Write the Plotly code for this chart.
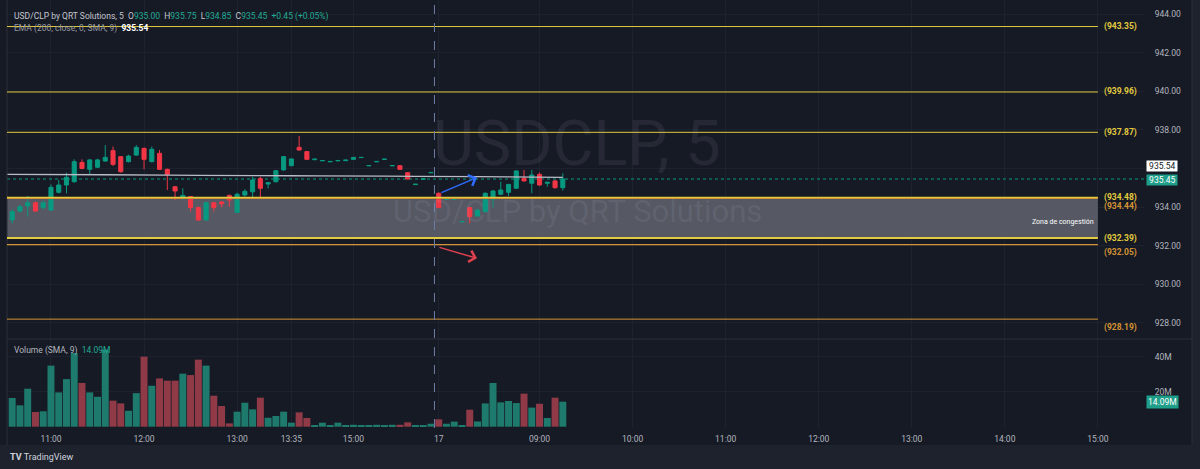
import plotly.graph_objects as go

# ---------------- data ----------------
OPEN = [933.33, 933.79, 934.05, 934.22, 933.97, 933.84, 934.76, 935.14, 935.31, 936.31,
        935.95, 936.06, 936.38, 936.92, 936.61, 936.35, 936.69, 937.04, 936.35, 936.78,
        935.95, 935.05, 934.45, 934.54, 933.97, 933.33, 934.22, 934.26, 934.60, 933.72,
        934.62, 934.79, 935.47, 935.19, 935.31, 935.92, 936.14, 937.09, 936.87, 936.45,
        936.39, 936.34, 936.39, 936.40, 936.47, 936.56, 936.13, 936.34, 936.46, 936.13,
        936.14, 935.78, 935.16, 935.44, 935.77, 934.71, 934.40, 934.40, 933.23, 933.97,
        933.53, 933.76, 934.41, 934.66, 934.76, 934.97, 935.48, 935.23, 935.69, 935.23,
        935.35, 935.00]
HIGH = [933.88, 934.09, 934.57, 934.28, 934.33, 935.17, 935.40, 935.78, 936.47, 936.47,
        936.49, 936.50, 937.21, 937.13, 936.64, 936.71, 937.21, 937.07, 937.13, 936.95,
        935.99, 935.09, 934.97, 934.57, 934.02, 934.28, 934.26, 934.29, 934.64, 934.74,
        934.92, 935.57, 935.57, 935.29, 935.92, 936.64, 936.52, 937.68, 936.90, 936.48,
        936.41, 936.36, 936.41, 936.43, 936.59, 936.58, 936.15, 936.36, 936.48, 936.15,
        936.16, 935.80, 935.18, 935.46, 935.79, 934.76, 934.42, 934.43, 933.26, 934.00,
        933.88, 934.76, 934.88, 935.31, 935.20, 935.90, 935.92, 935.92, 935.78, 935.28,
        935.40, 935.75]
LOW = [933.15, 933.72, 933.50, 933.74, 933.88, 933.81, 934.71, 934.71, 935.26, 935.95,
       935.66, 936.02, 936.35, 936.12, 935.78, 936.31, 936.66, 935.95, 936.31, 935.92,
       934.88, 934.36, 934.36, 933.76, 933.28, 933.29, 933.76, 933.98, 934.02, 933.69,
       934.54, 934.45, 934.45, 934.97, 935.28, 935.88, 936.11, 936.92, 936.44, 936.45,
       936.39, 936.34, 936.39, 936.40, 936.47, 936.56, 936.13, 936.34, 936.46, 936.13,
       935.93, 935.43, 935.16, 935.44, 935.77, 933.94, 934.40, 934.40, 933.22, 933.15,
       933.50, 933.72, 933.98, 934.62, 934.57, 934.94, 935.33, 934.71, 935.10, 935.05,
       934.95, 934.85]
CLOSE = [933.76, 934.02, 934.22, 933.79, 934.22, 935.02, 935.14, 935.54, 936.35, 936.00,
         936.44, 936.44, 936.57, 936.21, 935.83, 936.64, 937.09, 936.47, 936.99, 935.95,
         935.69, 934.83, 934.60, 933.97, 933.33, 934.22, 933.97, 934.16, 934.36, 934.66,
         934.81, 935.40, 934.97, 935.26, 935.88, 936.61, 936.49, 936.95, 936.47, 936.48,
         936.41, 936.36, 936.41, 936.43, 936.57, 936.57, 936.15, 936.36, 936.48, 936.15,
         935.95, 935.45, 935.18, 935.46, 935.79, 933.97, 934.42, 934.42, 933.25, 933.50,
         933.84, 934.71, 934.83, 934.88, 935.17, 935.87, 935.35, 935.66, 935.14, 935.28,
         935.00, 935.45]
VOLUME_M = [16.4, 12.2, 21.7, 8.4, 8.8, 34.9, 19.6, 27.2, 42.1, 25.0,
            19.6, 17.1, 44.0, 14.9, 13.3, 9.1, 19.2, 40.0, 23.4, 27.6,
            26.3, 26.3, 30.3, 29.5, 38.3, 34.9, 17.7, 11.8, 1.9, 8.6,
            13.7, 9.9, 16.6, 5.1, 6.1, 8.6, 2.3, 8.2, 5.0, 0.6,
            2.3, 0.6, 2.3, 0.6, 1.1, 0.6, 0.6, 1.1, 0.6, 1.1,
            1.1, 2.5, 0.6, 0.6, 1.7, 4.2, 1.7, 2.9, 0.6, 9.7,
            3.0, 13.3, 25.0, 13.9, 14.7, 13.5, 18.9, 10.9, 13.1, 5.0,
            16.6, 14.3]
VOLUME_SMA_M = 14.09

EMA_IDX = [-1, 12, 24, 36, 48, 60, 71]
EMA_VAL = [935.69, 935.67, 935.64, 935.62, 935.60, 935.57, 935.54]

TICK_POS = [5, 17, 29, 36, 44, 55, 68, 80, 92, 104, 116, 128, 140]
TICK_TEXT = ['11:00', '12:00', '13:00', '13:35', '15:00', '17', '09:00',
             '10:00', '11:00', '12:00', '13:00', '14:00', '15:00']
PRICE_TICKS = [928, 930, 932, 934, 936, 938, 940, 942, 944]
HIDDEN_PRICE_TICKS = [936]   # covered by the last-value labels in the reference
VOL_TICKS = [20, 40]

LEVELS = [943.35, 939.96, 937.87, 934.48, 934.44, 932.39, 932.05, 928.19]
ZONE = [932.39, 934.48]
SESSION_BREAK = 54.45
LINE_END = 140
ARROW_TAIL_X = [55.16, 54.9]
ARROW_TAIL_Y = [934.71, 931.93]
ARROW_HEAD_X = [59.94, 59.94]
ARROW_HEAD_Y = [935.53, 931.34]

# ---------------- styles ----------------
W, H = 1200, 469
L_PX, R_PX, B_PX = 7, 1145, 428
BG = '#161a25'
OUTER = '#1e222d'
GRID = '#1e222e'
BORDER = '#2a2e39'
TXT = '#b2b5be'
UP = '#089981'
DN = '#f23645'
UP_V = '#1e7a6c'
DN_V = '#913a47'
YEL = '#e2cb3f'
ORG = '#d49334'
LEVEL_COLORS = [YEL, YEL, YEL, YEL, ORG, YEL, ORG, ORG]
LEVEL_WIDTHS = [1, 1, 1, 2, 1, 2, 1.2, 1]
LEVEL_LABEL_SHIFT = [0, 0, 0, 0, -8, 0, -8, -8]
ARROW_COLORS = ['#2f6bff', '#e0414f']
FONT = 'Roboto, Lato, sans-serif'

X_MIN = (L_PX - 12.2) / 7.755
X_MAX = (R_PX - 12.2) / 7.755
MAIN_DOM0 = (B_PX - 339) / B_PX

idx = list(range(len(OPEN)))
vol_colors = [UP_V if c >= o else DN_V for o, c in zip(OPEN, CLOSE)]

fig = go.Figure()
fig.add_trace(go.Candlestick(
    x=idx, open=OPEN, high=HIGH, low=LOW, close=CLOSE,
    increasing=dict(line=dict(color=UP, width=1), fillcolor=UP),
    decreasing=dict(line=dict(color=DN, width=1), fillcolor=DN),
    whiskerwidth=0, xaxis='x', yaxis='y', showlegend=False, hoverinfo='skip'))
fig.add_trace(go.Scatter(
    x=EMA_IDX, y=EMA_VAL, mode='lines', line=dict(color='#b9bcc5', width=1.3, shape='spline'),
    xaxis='x', yaxis='y', showlegend=False, hoverinfo='skip'))
fig.add_trace(go.Bar(
    x=idx, y=VOLUME_M, marker=dict(color=vol_colors, line=dict(width=0)), width=0.9,
    xaxis='x', yaxis='y2', showlegend=False, hoverinfo='skip'))

px2paper_x = lambda px: (px - L_PX) / (R_PX - L_PX)
px2paper_y = lambda py: 1 - py / B_PX

shapes = []
shapes.append(dict(type='rect', xref='paper', yref='paper', x0=px2paper_x(0), x1=px2paper_x(1192),
                   y0=px2paper_y(445), y1=1, fillcolor=BG, line=dict(width=0), layer='below'))
shapes.append(dict(type='rect', xref='x', yref='y', x0=X_MIN, x1=LINE_END, y0=ZONE[0], y1=ZONE[1],
                   fillcolor='#565964', line=dict(width=0), layer='between'))
shapes.append(dict(type='line', xref='paper', yref='paper', x0=px2paper_x(L_PX), x1=px2paper_x(L_PX),
                   y0=px2paper_y(445), y1=1, line=dict(color=BORDER, width=1)))
shapes.append(dict(type='line', xref='paper', yref='paper', x0=px2paper_x(1192), x1=px2paper_x(1192),
                   y0=px2paper_y(445), y1=1, line=dict(color=BORDER, width=1)))
shapes.append(dict(type='line', xref='paper', yref='paper', x0=px2paper_x(L_PX), x1=px2paper_x(1192),
                   y0=MAIN_DOM0, y1=MAIN_DOM0, line=dict(color=BORDER, width=1)))
for v, c, w in zip(LEVELS, LEVEL_COLORS, LEVEL_WIDTHS):
    shapes.append(dict(type='line', xref='x', yref='y', x0=X_MIN, x1=LINE_END, y0=v, y1=v,
                       line=dict(color=c, width=w), layer='above'))
shapes.append(dict(type='line', xref='x', yref='y', x0=X_MIN, x1=X_MAX, y0=CLOSE[-1], y1=CLOSE[-1],
                   line=dict(color=UP, width=1, dash='dot'), layer='between'))
shapes.append(dict(type='line', xref='x', yref='paper', x0=SESSION_BREAK, x1=SESSION_BREAK, y0=0, y1=1,
                   line=dict(color='#6d7ea8', width=1, dash='dash'), layer='above'))

ann = []
g = '#22ab94'
def sp(t, c=g):
    return f'<span style="color:{c}">{t}</span>'
chg = CLOSE[-1] - CLOSE[-2]
pct = chg / CLOSE[-2] * 100
head = ('USD/CLP by QRT Solutions, 5&nbsp;&nbsp;O' + sp(f'{OPEN[-1]:.2f}') + '&nbsp;&nbsp;H' + sp(f'{HIGH[-1]:.2f}') +
        '&nbsp;&nbsp;L' + sp(f'{LOW[-1]:.2f}') + '&nbsp;&nbsp;C' + sp(f'{CLOSE[-1]:.2f}') + '&nbsp;&nbsp;' +
        sp(f'{chg:+.2f} ({pct:+.2f}%)'))
ann.append(dict(xref='paper', yref='paper', x=px2paper_x(12), y=px2paper_y(16), xanchor='left', yanchor='middle',
                text=head, showarrow=False, font=dict(family=FONT, size=8.5, color='#c3c6ce')))
ann.append(dict(xref='paper', yref='paper', x=px2paper_x(12), y=px2paper_y(28), xanchor='left', yanchor='middle',
                text='EMA (200, close, 0, SMA, 9)&nbsp;&nbsp;' + sp(f'<b>{EMA_VAL[-1]:.2f}</b>', '#ffffff'),
                showarrow=False, font=dict(family=FONT, size=8.5, color='#9598a1')))
ann.append(dict(xref='paper', yref='paper', x=px2paper_x(12), y=px2paper_y(350), xanchor='left', yanchor='middle',
                text='Volume (SMA, 9)&nbsp;&nbsp;' + sp(f'{VOLUME_SMA_M:.2f}M'),
                showarrow=False, font=dict(family=FONT, size=8.5, color='#b2b5be')))
ann.append(dict(xref='paper', yref='paper', x=px2paper_x(577), y=px2paper_y(143), xanchor='center', yanchor='middle',
                text='USDCLP, 5', showarrow=False,
                font=dict(family='Liberation Sans Narrow, Roboto, sans-serif', size=63, color='rgba(200,205,220,0.09)')))
ann.append(dict(xref='paper', yref='paper', x=px2paper_x(577), y=px2paper_y(211), xanchor='center', yanchor='middle',
                text='USD/CLP by QRT Solutions', showarrow=False,
                font=dict(family=FONT, size=31, color='rgba(200,205,220,0.09)')))
for v, c, s in zip(LEVELS, LEVEL_COLORS, LEVEL_LABEL_SHIFT):
    ann.append(dict(xref='x', yref='y', x=LINE_END, y=v, xanchor='left', yanchor='middle', xshift=4, yshift=s,
                    text=f'<b>({v:.2f})</b>', showarrow=False, font=dict(family=FONT, size=8.5, color=c)))
ann.append(dict(xref='x', yref='y', x=LINE_END, y=(ZONE[0] + ZONE[1]) / 2, xanchor='right', yanchor='middle',
                xshift=-2, yshift=-4, text='Zona de congestión', showarrow=False,
                font=dict(family=FONT, size=7, color='#ffffff')))
for tx, ty, hx, hy, c in zip(ARROW_TAIL_X, ARROW_TAIL_Y, ARROW_HEAD_X, ARROW_HEAD_Y, ARROW_COLORS):
    ann.append(dict(xref='x', yref='y', axref='x', ayref='y', x=hx, y=hy, ax=tx, ay=ty, text='',
                    showarrow=True, arrowhead=4, arrowsize=1.5, arrowwidth=1.5, arrowcolor=c, standoff=0))
ann.append(dict(xref='paper', yref='y', x=px2paper_x(1146), y=EMA_VAL[-1], yshift=11, xanchor='left', yanchor='middle',
                text=f'&nbsp;{EMA_VAL[-1]:.2f}&nbsp;', showarrow=False, bgcolor='#ffffff', borderpad=0,
                font=dict(family=FONT, size=8.5, color='#131722')))
ann.append(dict(xref='paper', yref='y', x=px2paper_x(1146), y=CLOSE[-1], yshift=-1, xanchor='left', yanchor='middle',
                text=f'&nbsp;{CLOSE[-1]:.2f}&nbsp;', showarrow=False, bgcolor='#1f9e89', borderpad=0,
                font=dict(family=FONT, size=8.5, color='#ffffff')))
ann.append(dict(xref='paper', yref='y2', x=px2paper_x(1146), y=VOLUME_SMA_M, xanchor='left', yanchor='middle',
                text=f'{VOLUME_SMA_M:.2f}M', showarrow=False, bgcolor='#1f9e89', borderpad=1,
                font=dict(family=FONT, size=8.5, color='#ffffff')))
ann.append(dict(xref='paper', yref='paper', x=px2paper_x(8), y=px2paper_y(457), xanchor='left', yanchor='middle',
                text='<b>TV</b>&nbsp;TradingView', showarrow=False, font=dict(family=FONT, size=9, color='#d1d4dc')))

fig.update_layout(
    width=W, height=H,
    margin=dict(l=L_PX, r=W - R_PX, t=0, b=H - B_PX),
    paper_bgcolor=OUTER, plot_bgcolor=BG,
    showlegend=False, barmode='overlay', boxgap=0.25,
    font=dict(family=FONT, size=8.5, color=TXT),
    xaxis=dict(domain=[0, 1], range=[X_MIN, X_MAX], anchor='y2', tickmode='array', tickvals=TICK_POS,
               ticktext=TICK_TEXT, showgrid=True, gridcolor=GRID, zeroline=False, showline=False,
               ticks='outside', ticklen=3, tickcolor='rgba(0,0,0,0)', rangeslider=dict(visible=False),
               tickfont=dict(family=FONT, size=8.5, color=TXT), fixedrange=True),
    yaxis=dict(domain=[MAIN_DOM0, 1], range=[944 - (339 - 14) / 19.3, 944 + 14 / 19.3], side='right', anchor='x',
               tickmode='array', tickvals=PRICE_TICKS,
               ticktext=['' if t in HIDDEN_PRICE_TICKS else f'{t:.2f}' for t in PRICE_TICKS],
               showgrid=True, gridcolor=GRID, zeroline=False, showline=False,
               ticks='outside', ticklen=7, tickcolor='rgba(0,0,0,0)',
               tickfont=dict(family=FONT, size=8.5, color=TXT)),
    yaxis2=dict(domain=[0, MAIN_DOM0], range=[-(B_PX - 426.7) / 1.75, (426.7 - 339) / 1.75], side='right',
                anchor='x', tickmode='array', tickvals=VOL_TICKS, ticktext=[f'{t}M' for t in VOL_TICKS],
                showgrid=True, gridcolor=GRID, zeroline=False, showline=False,
                ticks='outside', ticklen=7, tickcolor='rgba(0,0,0,0)',
                tickfont=dict(family=FONT, size=8.5, color=TXT)),
    shapes=shapes, annotations=ann,
)

fig.write_html('out.html')
